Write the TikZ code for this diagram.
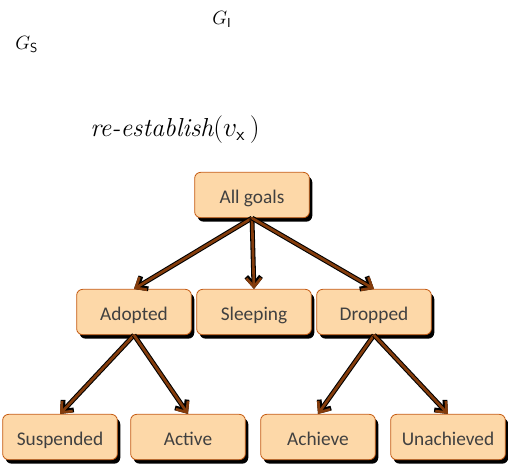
\documentclass[tikz,border=0pt]{standalone}
\usepackage{amsmath}
\usepackage{fontspec}
\usepackage{tikz}
\usetikzlibrary{arrows.meta}
\usetikzlibrary{shadows}
\newfontfamily\goalfont{Carlito}
\definecolor{goalfill}{HTML}{FDD8A8}
\definecolor{goalline}{HTML}{C55A11}
\definecolor{goalarrow}{HTML}{843C0C}
\definecolor{goaltext}{HTML}{404040}

\begin{document}
\begin{tikzpicture}[x=0.75pt,y=-0.75pt,
      goal/.style={rectangle,rounded corners=4.5pt,draw=goalline,line width=0.6pt,
        fill=goalfill,text=goaltext,minimum width=86pt,minimum height=34pt,
        text height=12.5pt,text depth=0pt,
        font=\goalfont\fontsize{14.5}{16}\selectfont,
        drop shadow={opacity=1,fill=black,shadow xshift=2.2pt,shadow yshift=-3pt}},
      label math/.style={inner sep=0pt,anchor=base west,font=\fontsize{14}{16}\selectfont},
      arrow back/.style={draw=black,line width=3.6pt,-{Straight Barb[length=6.5pt,width=11pt]}},
      arrow front/.style={draw=goalarrow,line width=2pt,-{Straight Barb[length=6.5pt,width=11pt]}}]

      \useasboundingbox (0,0) rectangle (508,468);

      % labels
      \node[label math] (gi) at (212,24.3) {$G_{\mathsf{I}}$};
      \node[label math] (gs) at (15,49.3) {$G_{\mathsf{S}}$};
      \node[label math,font=\fontsize{19.5}{22}\selectfont] (reest) at (90,136.7)
        {$\textit{re-establish}(v_{\mathsf{x}}\,)$};

      % goal hierarchy
      \node[goal] (all) at (252,195) {All goals};
      \node[goal] (adopted) at (134,312) {Adopted};
      \node[goal] (sleeping) at (254,312) {Sleeping};
      \node[goal] (dropped) at (374,312) {Dropped};
      \node[goal] (suspended) at (60,437) {Suspended};
      \node[goal] (active) at (188,437) {Active};
      \node[goal] (achieve) at (318,437) {Achieve};
      \node[goal] (unachieved) at (448,437) {Unachieved};

      \foreach \from/\to in {all/adopted,all/sleeping,all/dropped,
          adopted/suspended,adopted/active,dropped/achieve,dropped/unachieved} {
        \draw[arrow back] (\from.south) -- (\to.north);
        \draw[arrow front] (\from.south) -- (\to.north);
      }
    \end{tikzpicture}
\end{document}
